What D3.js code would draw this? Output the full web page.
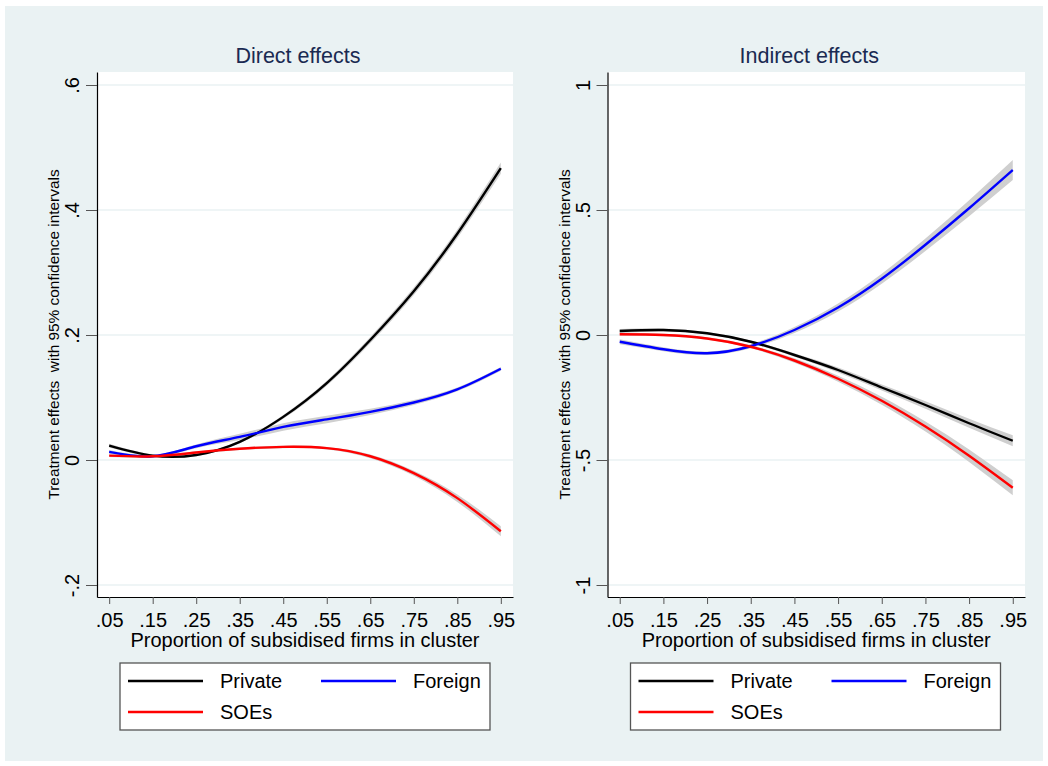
<!DOCTYPE html>
<meta charset="utf-8">

<head>
  <style>
    body {
      margin: 0;
      background: #fff;
    }

    text {
      font-family: "Liberation Sans", Arial, Helvetica, sans-serif;
    }
  </style>
</head>

<body>
  <script src="https://d3js.org/d3.v7.min.js"></script>

  <div id="chart"></div>

  <script>

    var width = 1048,
      height = 766;

    // x positions (proportion of subsidised firms) and tick labels
    var xVals = [0.05, 0.15, 0.25, 0.35, 0.45, 0.55, 0.65, 0.75, 0.85, 0.95];
    var xTickLabels = ['.05', '.15', '.25', '.35', '.45', '.55', '.65', '.75', '.85', '.95'];

    // Direct effects
    var directPrivate = [0.023, 0.007, 0.008, 0.029, 0.069, 0.123, 0.192, 0.270, 0.362, 0.467];
    var directForeign = [0.013, 0.006, 0.022, 0.037, 0.053, 0.065, 0.077, 0.092, 0.113, 0.146];
    var directSOE = [0.007, 0.006, 0.012, 0.018, 0.021, 0.019, 0.006, -0.021, -0.061, -0.114];
    // half width of the 95% band
    var directPrivateCI = [0.003, 0.002, 0.002, 0.002, 0.003, 0.004, 0.005, 0.006, 0.007, 0.009];
    var directForeignCI = [0.003, 0.002, 0.003, 0.005, 0.006, 0.006, 0.005, 0.004, 0.003, 0.003];
    var directSOECI = [0.002, 0.002, 0.002, 0.002, 0.002, 0.002, 0.003, 0.004, 0.006, 0.008];
    var directTicks = [-0.2, 0, 0.2, 0.4, 0.6];
    var directTickLabels = ['-.2', '0', '.2', '.4', '.6'];

    // Indirect effects
    var indirectPrivate = [0.016, 0.020, 0.007, -0.027, -0.080, -0.140, -0.210, -0.280, -0.353, -0.423];
    var indirectForeign = [-0.027, -0.057, -0.073, -0.045, 0.020, 0.110, 0.225, 0.361, 0.507, 0.660];
    var indirectSOE = [0.003, 0.000, -0.014, -0.047, -0.102, -0.175, -0.263, -0.366, -0.483, -0.611];
    var indirectPrivateCI = [0.008, 0.006, 0.005, 0.005, 0.007, 0.010, 0.012, 0.015, 0.018, 0.022];
    var indirectForeignCI = [0.010, 0.008, 0.007, 0.008, 0.012, 0.016, 0.020, 0.025, 0.032, 0.040];
    var indirectSOECI = [0.006, 0.005, 0.005, 0.006, 0.009, 0.012, 0.016, 0.020, 0.025, 0.030];
    var indirectTicks = [-1, -0.5, 0, 0.5, 1];
    var indirectTickLabels = ['-1', '-.5', '0', '.5', '1'];

    var groups = ['Private', 'Foreign', 'SOEs'];
    var colors = { 'Private': '#000000', 'Foreign': '#0000ff', 'SOEs': '#ff0000' };

    var panels = [
      {
        title: 'Direct effects', left: 97, right: 513,
        yDomain: [-0.2192, 0.6208], ticks: directTicks, tickLabels: directTickLabels,
        series: { 'Private': [directPrivate, directPrivateCI], 'Foreign': [directForeign, directForeignCI], 'SOEs': [directSOE, directSOECI] }
      },
      {
        title: 'Indirect effects', left: 607.5, right: 1025,
        yDomain: [-1.048, 1.052], ticks: indirectTicks, tickLabels: indirectTickLabels,
        series: { 'Private': [indirectPrivate, indirectPrivateCI], 'Foreign': [indirectForeign, indirectForeignCI], 'SOEs': [indirectSOE, indirectSOECI] }
      }
    ];

    var plotTop = 72, plotBottom = 597;

    var svg = d3.select('#chart')
      .append('svg')
      .attr('width', width)
      .attr('height', height);

    svg.append('rect')
      .attr('x', 5).attr('y', 6)
      .attr('width', 1038).attr('height', 755)
      .attr('fill', '#eaf2f3');

    panels.forEach(function (p) {
      var g = svg.append('g');

      var x = d3.scaleLinear().domain([0.022, 0.978]).range([p.left, p.right]);
      var y = d3.scaleLinear().domain(p.yDomain).range([plotBottom, plotTop]);

      // plot region
      g.append('rect')
        .attr('x', p.left).attr('y', plotTop)
        .attr('width', p.right - p.left).attr('height', plotBottom - plotTop)
        .attr('fill', '#fff');

      // gridlines
      g.selectAll('.grid')
        .data(p.ticks)
        .enter()
        .append('line')
        .attr('x1', p.left).attr('x2', p.right)
        .attr('y1', d => y(d)).attr('y2', d => y(d))
        .attr('stroke', '#eaf2f3')
        .attr('stroke-width', 1.5);

      // confidence bands
      var area = d3.area()
        .x((d, i) => x(xVals[i]))
        .y0(d => y(d[0] - d[1]))
        .y1(d => y(d[0] + d[1]))
        .curve(d3.curveNatural);

      groups.forEach(function (k) {
        var vals = p.series[k][0], ci = p.series[k][1];
        g.append('path')
          .datum(vals.map((v, i) => [v, ci[i]]))
          .attr('d', area)
          .attr('fill', '#cfcfcf');
      });

      var line = d3.line()
        .x((d, i) => x(xVals[i]))
        .y(d => y(d))
        .curve(d3.curveNatural);

      groups.forEach(function (k) {
        g.append('path')
          .datum(p.series[k][0])
          .attr('d', line)
          .attr('fill', 'none')
          .attr('stroke', colors[k])
          .attr('stroke-width', 2.4);
      });

      // y axis
      var yAxis = g.append('g')
        .attr('transform', 'translate(' + p.left + ',0)')
        .call(d3.axisLeft(y).tickValues(p.ticks).tickFormat((d, i) => p.tickLabels[i]).tickSize(11).tickSizeOuter(0));
      yAxis.select('.domain').attr('stroke', '#000').attr('stroke-width', 1.2);
      yAxis.selectAll('.tick line').attr('stroke', '#555');
      yAxis.selectAll('.tick text')
        .attr('x', 0).attr('dy', 0)
        .attr('text-anchor', 'middle')
        .attr('transform', 'translate(-18,0) rotate(-90)')
        .attr('fill', '#000')
        .style('font-size', '20px')
        .style('font-family', '"Liberation Sans", Arial, sans-serif');

      // x axis
      var xAxis = g.append('g')
        .attr('transform', 'translate(0,' + plotBottom + ')')
        .call(d3.axisBottom(x).tickValues(xVals).tickFormat((d, i) => xTickLabels[i]).tickSize(7).tickSizeOuter(0));
      xAxis.select('.domain').attr('stroke', '#000').attr('stroke-width', 1.2);
      xAxis.selectAll('.tick line').attr('stroke', '#555');
      xAxis.selectAll('.tick text')
        .attr('y', 30).attr('dy', 0)
        .attr('fill', '#000')
        .style('font-size', '20px')
        .style('font-family', '"Liberation Sans", Arial, sans-serif');

      // titles
      g.append('text')
        .attr('x', (p.left + p.right) / 2 - 7)
        .attr('y', 63)
        .attr('text-anchor', 'middle')
        .attr('fill', '#1a2a52')
        .style('font-size', '21.5px')
        .text(p.title);

      g.append('text')
        .attr('x', (p.left + p.right) / 2)
        .attr('y', 647)
        .attr('text-anchor', 'middle')
        .attr('fill', '#000')
        .style('font-size', '20px')
        .text('Proportion of subsidised firms in cluster');

      g.append('text')
        .attr('transform', 'translate(' + (p.left - 38) + ',' + (plotTop + plotBottom) / 2 + ') rotate(-90)')
        .attr('text-anchor', 'middle')
        .attr('fill', '#000')
        .style('font-size', '15.4px')
        .style('white-space', 'pre')
        .text('Treatment effects  with 95% confidence intervals');

      // legend
      var lx = p.left + 23, ly = 663;
      var leg = g.append('g').attr('transform', 'translate(' + lx + ',' + ly + ')');
      leg.append('rect')
        .attr('width', 370).attr('height', 67)
        .attr('fill', '#fff')
        .attr('stroke', '#555')
        .attr('stroke-width', 1.3);

      var legPos = { 'Private': [8, 18], 'Foreign': [201, 18], 'SOEs': [8, 49] };
      groups.forEach(function (k) {
        var pos = legPos[k];
        leg.append('line')
          .attr('x1', pos[0]).attr('x2', pos[0] + 75)
          .attr('y1', pos[1]).attr('y2', pos[1])
          .attr('stroke', colors[k])
          .attr('stroke-width', 2.4);
        leg.append('text')
          .attr('x', pos[0] + 92)
          .attr('y', pos[1] + 7)
          .attr('fill', '#000')
          .style('font-size', '20px')
          .text(k);
      });
    });
  </script>
</body>
